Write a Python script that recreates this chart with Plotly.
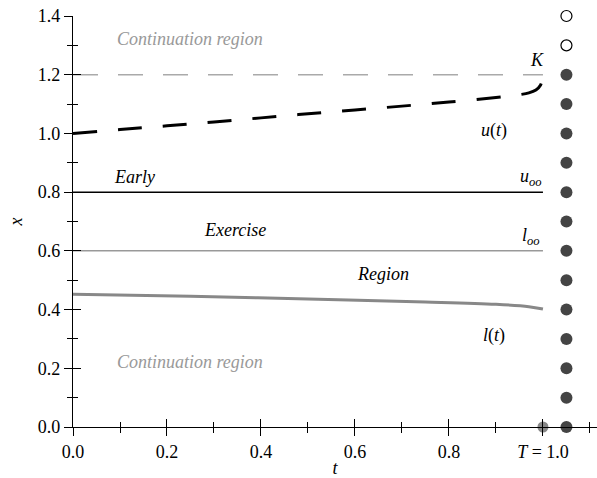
import plotly.graph_objects as go

# data
t_u = [0.0, 0.1, 0.2, 0.3, 0.4, 0.5, 0.6, 0.7, 0.8, 0.9, 0.95, 0.97, 0.985, 0.995, 1.0]
u_vals = [1.0, 1.013, 1.026, 1.039, 1.053, 1.067, 1.080, 1.093, 1.107, 1.122, 1.132, 1.138, 1.148, 1.165, 1.198]
t_l = [0.0, 0.25, 0.5, 0.75, 0.9, 0.97, 1.0]
l_vals = [0.452, 0.445, 0.436, 0.426, 0.418, 0.410, 0.402]
K = 1.2
u_oo = 0.8
l_oo = 0.6
T = 1.0
dot_t = 1.05
dots_filled = [0.0, 0.1, 0.2, 0.3, 0.4, 0.5, 0.6, 0.7, 0.8, 0.9, 1.0, 1.1, 1.2]
dots_open = [1.3, 1.4]
x_tickvals = [0.0, 0.2, 0.4, 0.6, 0.8, 1.0]
x_ticktext = ["0.0", "0.2", "0.4", "0.6", "0.8", "<i>T</i> = 1.0"]
y_tickvals = [0.0, 0.2, 0.4, 0.6, 0.8, 1.0, 1.2, 1.4]
y_ticktext = ["0.0", "0.2", "0.4", "0.6", "0.8", "1.0", "1.2", "1.4"]

FONT = "Times New Roman, Liberation Serif, serif"
fig = go.Figure()

fig.add_trace(go.Scatter(x=[0, T], y=[K, K], mode="lines",
                         line=dict(color="#aaaaaa", width=1.5, dash="25px,20px"),
                         hoverinfo="skip"))
fig.add_trace(go.Scatter(x=[0, T], y=[u_oo, u_oo], mode="lines",
                         line=dict(color="black", width=1.5), hoverinfo="skip"))
fig.add_trace(go.Scatter(x=[0, T], y=[l_oo, l_oo], mode="lines",
                         line=dict(color="#999999", width=1.5), hoverinfo="skip"))
fig.add_trace(go.Scatter(x=t_u, y=u_vals, mode="lines", line_shape="spline",
                         line=dict(color="black", width=3, dash="24px,21px"),
                         hoverinfo="skip"))
fig.add_trace(go.Scatter(x=t_l, y=l_vals, mode="lines", line_shape="spline",
                         line=dict(color="#888888", width=3), hoverinfo="skip"))
fig.add_trace(go.Scatter(x=[T], y=[0], mode="markers", cliponaxis=False,
                         marker=dict(color="#888888", size=11), hoverinfo="skip"))
fig.add_trace(go.Scatter(x=[dot_t] * len(dots_filled), y=dots_filled, mode="markers",
                         cliponaxis=False,
                         marker=dict(color="#444444", size=12), hoverinfo="skip"))
fig.add_trace(go.Scatter(x=[dot_t] * len(dots_open), y=dots_open, mode="markers",
                         cliponaxis=False,
                         marker=dict(color="white", size=11, line=dict(color="black", width=1.2)),
                         hoverinfo="skip"))

annotations = [
    dict(x=0.25, y=1.32, text="<i>Continuation region</i>", font=dict(color="#999999")),
    dict(x=0.25, y=0.22, text="<i>Continuation region</i>", font=dict(color="#999999")),
    dict(x=0.13, y=0.85, text="<i>Early</i>", font=dict(color="black")),
    dict(x=0.345, y=0.67, text="<i>Exercise</i>", font=dict(color="black")),
    dict(x=0.66, y=0.52, text="<i>Region</i>", font=dict(color="black")),
    dict(x=0.987, y=1.25, text="<i>K</i>", font=dict(color="black")),
    dict(x=0.895, y=1.01, text="<i>u</i>(<i>t</i>)", font=dict(color="black")),
    dict(x=0.895, y=0.31, text="<i>l</i>(<i>t</i>)", font=dict(color="black")),
    dict(x=0.975, y=0.85, text="<i>u<sub>oo</sub></i>", font=dict(color="black")),
    dict(x=0.975, y=0.65, text="<i>l<sub>oo</sub></i>", font=dict(color="black")),
]
for a in annotations:
    a.update(xref="x", yref="y", showarrow=False)
    a["font"]["family"] = FONT
    a["font"]["size"] = 18
fig.update_layout(annotations=annotations)

axis_common = dict(showgrid=False, zeroline=False, showline=True, linecolor="black",
                   linewidth=1.3, tickcolor="black", tickwidth=1.3, ticklen=8,
                   tickfont=dict(family=FONT, size=18, color="black"))

fig.update_layout(
    width=597, height=478,
    margin=dict(l=73, r=0, t=16, b=51),
    plot_bgcolor="white", paper_bgcolor="white",
    showlegend=False,
    font=dict(family=FONT, color="black"),
    xaxis=dict(range=[0, 1.115], tickvals=x_tickvals, ticktext=x_ticktext, ticks="outside",
               minor=dict(tickvals=[0.1, 0.3, 0.5, 0.7, 0.9, 1.1], ticks="outside", ticklen=5,
                          tickcolor="black", tickwidth=1.3),
               title=dict(text="<i>t</i>", font=dict(family=FONT, size=18), standoff=0),
               **axis_common),
    yaxis=dict(range=[0, 1.4], tickvals=y_tickvals, ticktext=y_ticktext, ticks="outside",
               minor=dict(tickvals=[0.1, 0.3, 0.5, 0.7, 0.9, 1.1, 1.3], ticks="outside", ticklen=5,
                          tickcolor="black", tickwidth=1.3),
               title=dict(text="<i>x</i>", font=dict(family=FONT, size=18), standoff=10),
               **axis_common),
    xaxis2=dict(overlaying="x", matches="x", range=[0, 1.115], showticklabels=False,
                tickvals=x_tickvals, ticks="inside", showgrid=False, zeroline=False,
                showline=False, ticklen=8, tickwidth=1.3, tickcolor="black", side="bottom",
                minor=dict(tickvals=[0.1, 0.3, 0.5, 0.7, 0.9, 1.1], ticks="inside", ticklen=5,
                           tickcolor="black", tickwidth=1.3)),
    yaxis2=dict(overlaying="y", matches="y", range=[0, 1.4], showticklabels=False,
                tickvals=y_tickvals, ticks="inside", showgrid=False, zeroline=False,
                showline=False, ticklen=8, tickwidth=1.3, tickcolor="black", side="left",
                minor=dict(tickvals=[0.1, 0.3, 0.5, 0.7, 0.9, 1.1, 1.3], ticks="inside", ticklen=5,
                           tickcolor="black", tickwidth=1.3)),
)
# invisible trace that activates the secondary axes carrying the inward ticks
fig.add_trace(go.Scatter(x=[0], y=[0], xaxis="x2", yaxis="y2", mode="markers",
                         marker=dict(opacity=0), hoverinfo="skip"))

fig.write_html("out.html")
